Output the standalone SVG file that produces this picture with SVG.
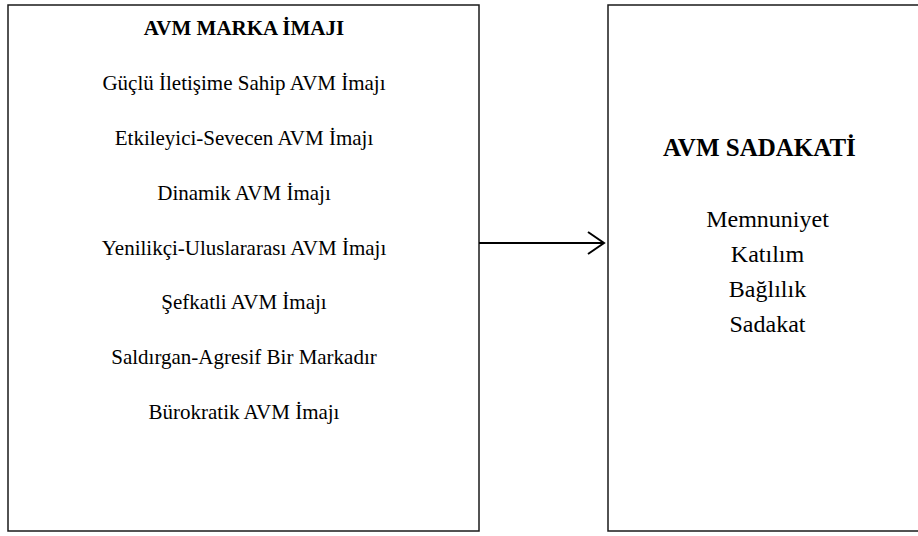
<svg xmlns="http://www.w3.org/2000/svg" width="918" height="536" viewBox="0 0 918 536">
  <style>
    .box { fill: #fff; stroke: #1a1a1a; stroke-width: 1.5; }
    text { font-family: 'Liberation Serif', 'DejaVu Serif', serif; fill: #000; }
    .hd { font-weight: bold; }
    .conn { fill: none; stroke: #000; stroke-width: 2; }
  </style>
  <rect width="918" height="536" fill="#fff"/>

  <g id="marka-imaji">
    <rect class="box" x="8" y="5" width="471" height="526"/>
    <g font-size="21" text-anchor="middle">
      <text class="hd" x="244" y="35">AVM MARKA İMAJI</text>
      <text x="244" y="90">Güçlü İletişime Sahip AVM İmajı</text>
      <text x="244" y="145">Etkileyici-Sevecen AVM İmajı</text>
      <text x="244" y="200">Dinamik AVM İmajı</text>
      <text x="244" y="255">Yenilikçi-Uluslararası AVM İmajı</text>
      <text x="244" y="309">Şefkatli AVM İmajı</text>
      <text x="244" y="364">Saldırgan-Agresif Bir Markadır</text>
      <text x="244" y="419">Bürokratik AVM İmajı</text>
    </g>
  </g>

  <g id="sadakat">
    <rect class="box" x="608" y="5" width="330" height="526"/>
    <text class="hd" x="663" y="156" font-size="25">AVM SADAKATİ</text>
    <g font-size="24" text-anchor="middle">
      <text x="767.5" y="227">Memnuniyet</text>
      <text x="767.5" y="262">Katılım</text>
      <text x="767.5" y="297">Bağlılık</text>
      <text x="767.5" y="332">Sadakat</text>
    </g>
  </g>

  <g id="connectors">
    <path class="conn" d="M479 243 H604"/>
    <path class="conn" d="M588 232 L604 243 L588 254"/>
  </g>
</svg>
